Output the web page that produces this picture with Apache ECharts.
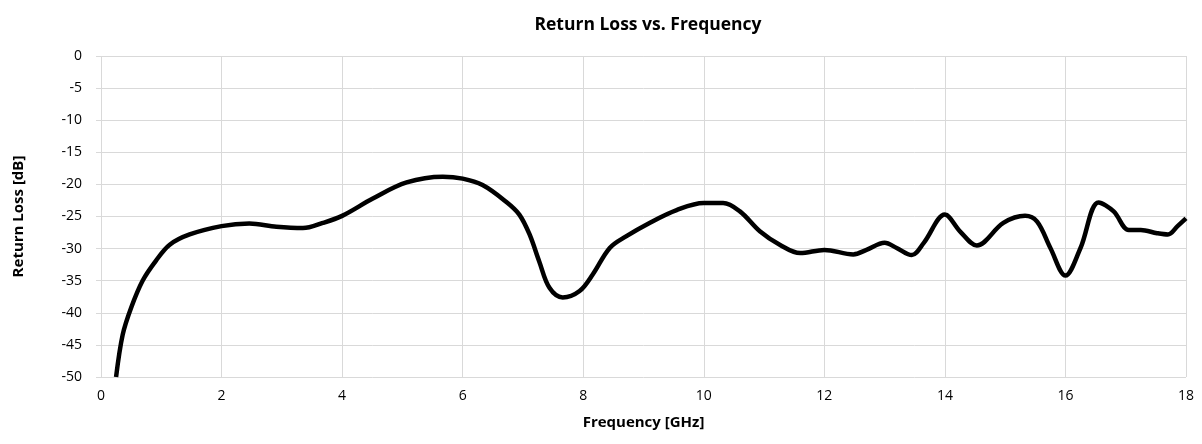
<!DOCTYPE html>
<html>
<head>
<meta charset="utf-8">
<script src="https://cdn.jsdelivr.net/npm/echarts@6/dist/echarts.min.js"></script>
<style>
  html, body { margin: 0; padding: 0; background: #fff; }
  #chart { width: 1202px; height: 444px; }
</style>
</head>
<body>
<div id="chart"></div>
<script>
// frequency in GHz, return loss in dB
const freq = [0.25, 0.36, 0.5, 0.69, 0.91, 1.14, 1.47, 2.0, 2.46, 2.91, 3.35, 3.68, 4.0, 4.51, 5.07, 5.67,
  6.0, 6.33, 6.72, 6.94, 7.11, 7.27, 7.44, 7.66, 7.94, 8.16, 8.44, 8.71, 9.1, 9.55, 10.0, 10.32, 10.6,
  10.93, 11.26, 11.6, 12.0, 12.48, 12.7, 13.0, 13.2, 13.45, 13.65, 14.0, 14.25, 14.53, 14.97, 15.33,
  15.53, 15.75, 16.0, 16.25, 16.55, 16.8, 17.05, 17.25, 17.52, 17.7, 17.86, 18.0];
const returnLoss = [-50, -43.4, -39.2, -35, -31.9, -29.4, -27.8, -26.5, -26.1, -26.6, -26.8, -26.0, -24.9, -22.2, -19.7, -18.8,
  -19.1, -20.1, -22.7, -24.7, -27.8, -32.0, -36.1, -37.6, -36.6, -34.0, -29.9, -28.1, -26.0, -24.0, -22.9, -22.9, -24.2,
  -27.3, -29.4, -30.7, -30.2, -30.9, -30.2, -29.1, -29.9, -31.0, -29.1, -24.7, -27.3, -29.5, -26.0, -24.9,
  -25.8, -29.9, -34.2, -29.9, -22.8, -24.2, -27.1, -27.1, -27.6, -27.8, -26.5, -25.3];

const fontFam = '"Open Sans", sans-serif';
const gridColor = '#d9d9d9';
const chart = echarts.init(document.getElementById('chart'));

const option = {
  animation: false,
  title: {
    text: 'Return Loss vs. Frequency',
    left: 643,
    textAlign: 'center',
    top: 11,
    textStyle: { fontFamily: fontFam, fontSize: 17.5, fontWeight: 'bold', color: '#000' }
  },
  grid: { left: 101, right: 16, top: 56, bottom: 67 },
  xAxis: {
    type: 'value',
    min: 0, max: 18, interval: 2,
    name: 'Frequency [GHz]',
    nameLocation: 'middle',
    nameGap: 38,
    nameTextStyle: { fontFamily: fontFam, fontSize: 15, fontWeight: 'bold', color: '#000' },
    axisLine: { lineStyle: { color: gridColor } },
    axisTick: { show: true, length: 4, lineStyle: { color: gridColor } },
    axisLabel: { fontFamily: fontFam, fontSize: 14, color: '#000', margin: 12 },
    splitLine: { lineStyle: { color: gridColor, width: 1 } }
  },
  yAxis: {
    type: 'value',
    min: -50, max: 0, interval: 5,
    name: 'Return Loss [dB]',
    nameLocation: 'middle',
    nameGap: 75,
    nameRotate: 90,
    nameTextStyle: { fontFamily: fontFam, fontSize: 15, fontWeight: 'bold', color: '#000' },
    axisLine: { show: false },
    axisTick: { show: true, length: 5, lineStyle: { color: gridColor } },
    axisLabel: { fontFamily: fontFam, fontSize: 14, color: '#000', margin: 19 },
    splitLine: { lineStyle: { color: gridColor, width: 1 } }
  },
  series: [{
    type: 'line',
    data: freq.map((f, i) => [f, returnLoss[i]]),
    smooth: 0.35,
    showSymbol: false,
    lineStyle: { color: '#000', width: 4.5 }
  }]
};
chart.setOption(option);
</script>
</body>
</html>
